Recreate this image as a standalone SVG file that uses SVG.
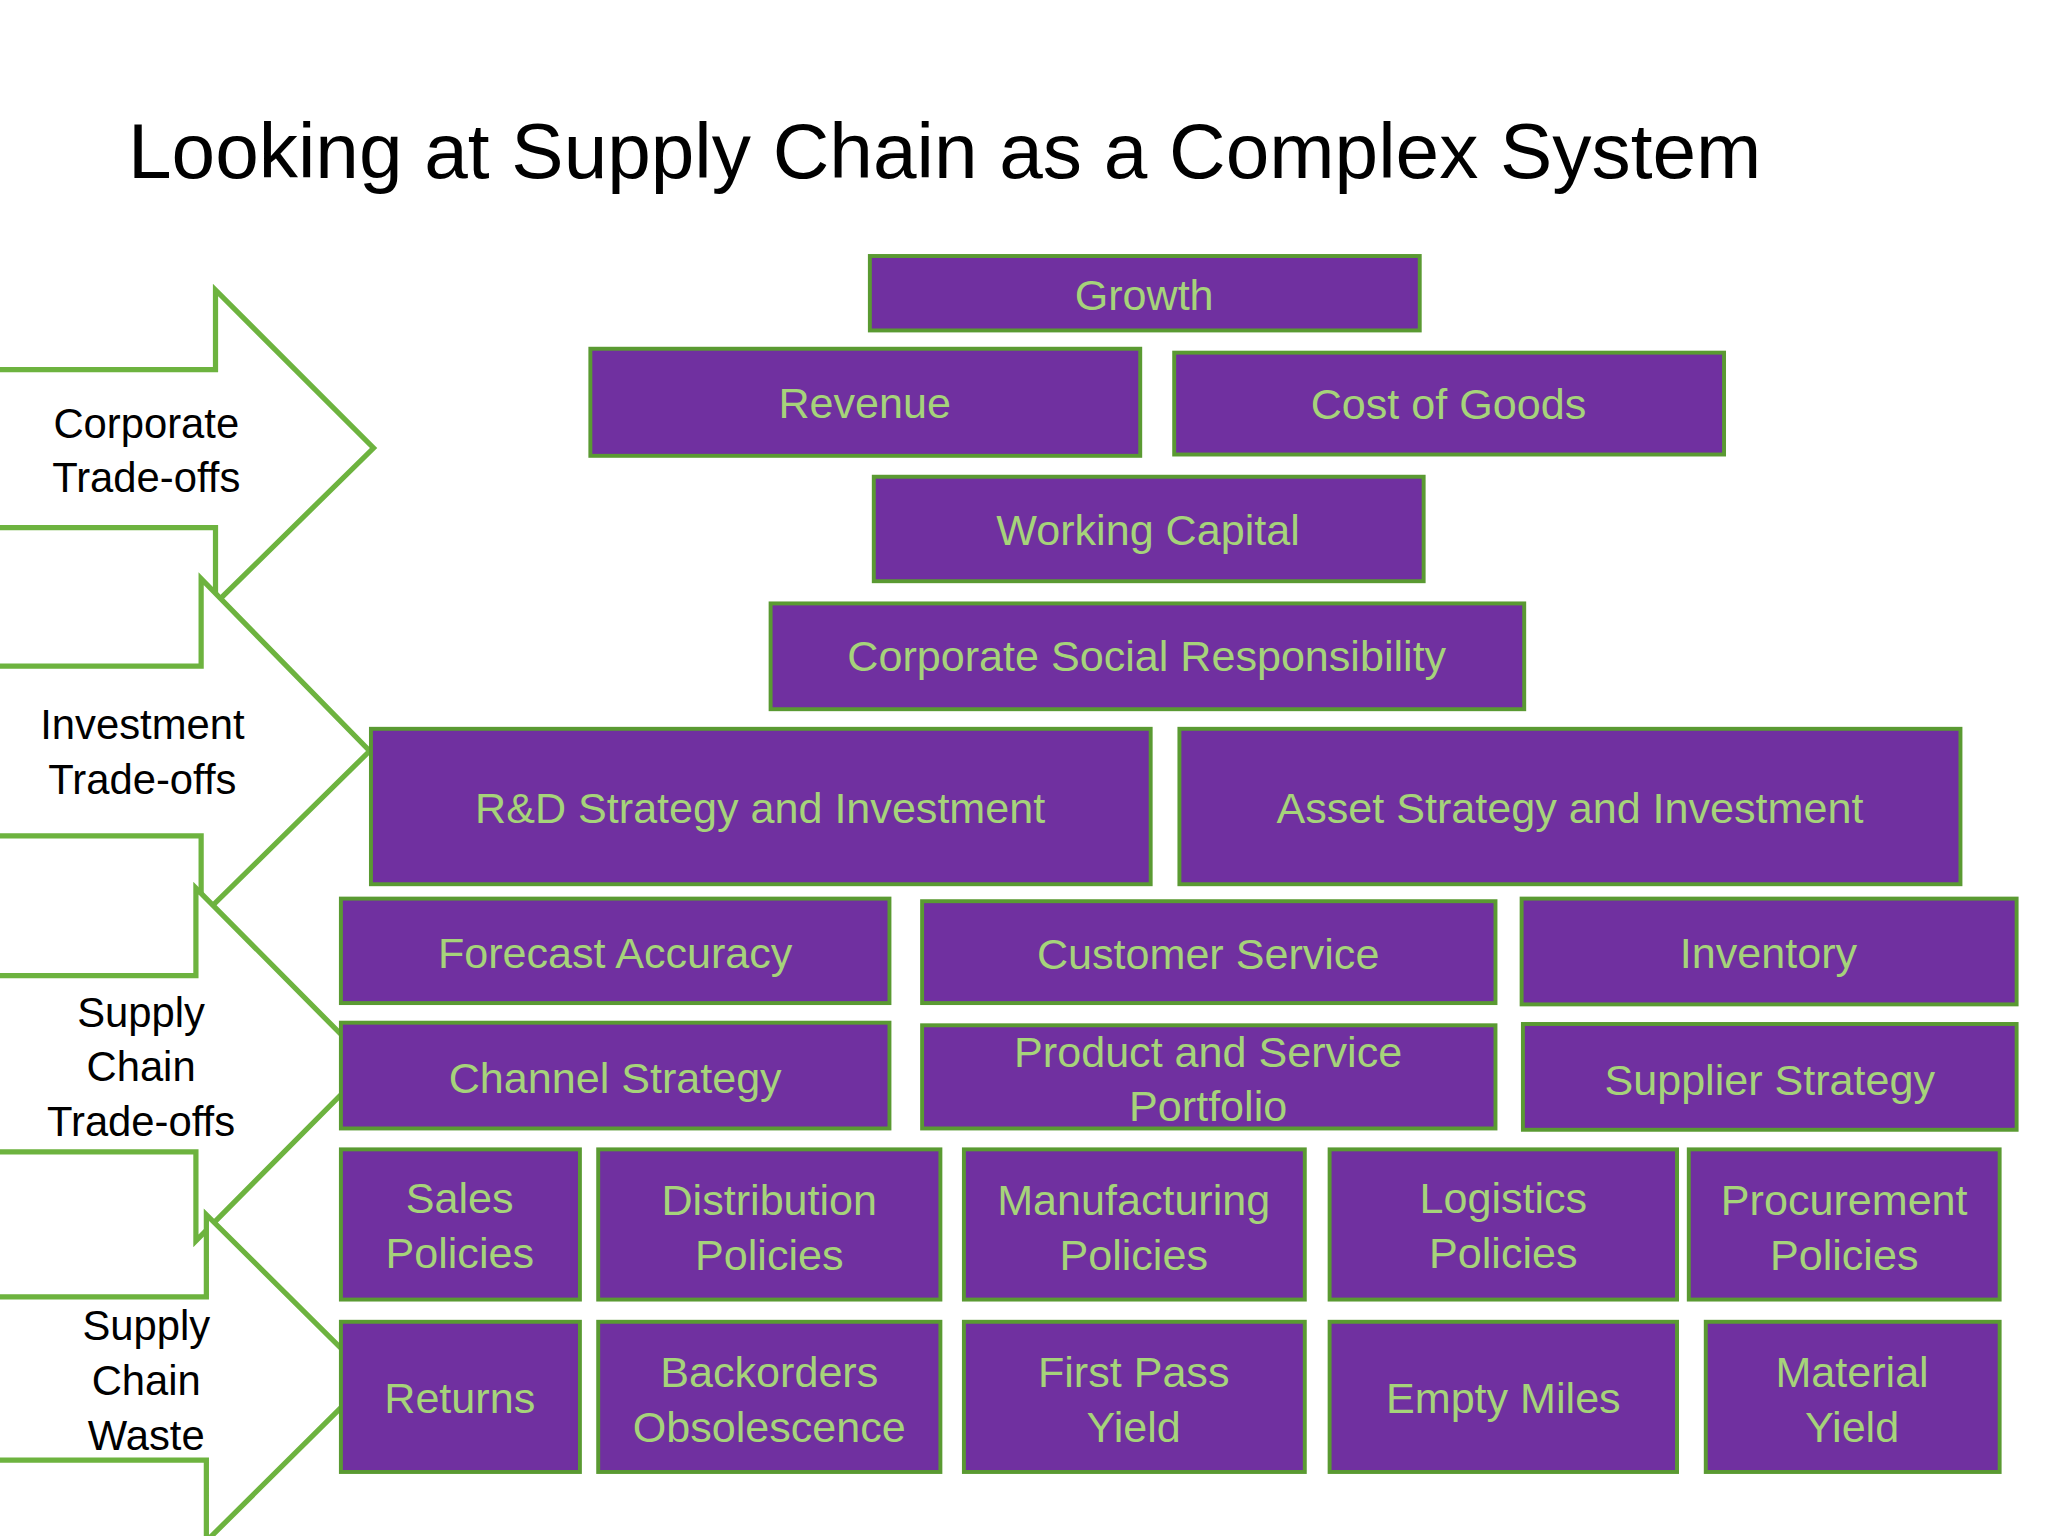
<svg xmlns="http://www.w3.org/2000/svg" width="2048" height="1536" viewBox="0 0 2048 1536">
<style>
.b{fill:#7030A0;stroke:#5A9A32;stroke-width:3}
.t{fill:#A6D37A;font-family:"Liberation Sans",Arial,sans-serif;font-size:33px;text-anchor:middle}
.a{fill:#fff;stroke:#6DB33F;stroke-width:4}
.l{fill:#000;font-family:"Liberation Sans",Arial,sans-serif;font-size:32px;text-anchor:middle}
</style>
<rect width="2048" height="1536" fill="#fff"/>
<g transform="scale(1.3061)">
<text x="98" y="136" font-family="Liberation Sans,Arial,sans-serif" font-size="60" fill="#000">Looking at Supply Chain as a Complex System</text>
<g id="arrows">
<g id="a1"><path class="a" d="M-5 283H165V222L286 343L165 462V404H-5Z"/><text class="l" x="112" y="335">Corporate</text><text class="l" x="112" y="377">Trade-offs</text></g>
<g id="a2"><path class="a" d="M-5 510H154V443L283 575L154 702V640H-5Z"/><text class="l" x="109" y="566">Investment</text><text class="l" x="109" y="608">Trade-offs</text></g>
<g id="a3"><path class="a" d="M-5 747H150V680L284 815L150 950V882H-5Z"/><text class="l" x="108" y="786">Supply</text><text class="l" x="108" y="828">Chain</text><text class="l" x="108" y="870">Trade-offs</text></g>
<g id="a4"><path class="a" d="M-5 993H158V930L284 1055L158 1180V1118H-5Z"/><text class="l" x="112" y="1026">Supply</text><text class="l" x="112" y="1068">Chain</text><text class="l" x="112" y="1110">Waste</text></g>
</g>
<g id="connectors"></g>
<g id="n1"><rect class="b" x="666" y="196" width="421" height="57"/><text class="t" x="876" y="237">Growth</text></g>
<g id="n2"><rect class="b" x="452" y="267" width="421" height="82"/><text class="t" x="662" y="320">Revenue</text></g>
<g id="n3"><rect class="b" x="899" y="270" width="421" height="78"/><text class="t" x="1109" y="321">Cost of Goods</text></g>
<g id="n4"><rect class="b" x="669" y="365" width="421" height="80"/><text class="t" x="879" y="417">Working Capital</text></g>
<g id="n5"><rect class="b" x="590" y="462" width="577" height="81"/><text class="t" x="878" y="514">Corporate Social Responsibility</text></g>
<g id="n6"><rect class="b" x="284" y="558" width="597" height="119"/><text class="t" x="582" y="630">R&amp;D Strategy and Investment</text></g>
<g id="n7"><rect class="b" x="903" y="558" width="598" height="119"/><text class="t" x="1202" y="630">Asset Strategy and Investment</text></g>
<g id="n8"><rect class="b" x="261" y="688" width="420" height="80"/><text class="t" x="471" y="741">Forecast Accuracy</text></g>
<g id="n9"><rect class="b" x="706" y="690" width="439" height="78"/><text class="t" x="925" y="742">Customer Service</text></g>
<g id="n10"><rect class="b" x="1165" y="688" width="379" height="81"/><text class="t" x="1354" y="741">Inventory</text></g>
<g id="n11"><rect class="b" x="261" y="783" width="420" height="81"/><text class="t" x="471" y="837">Channel Strategy</text></g>
<g id="n12"><rect class="b" x="706" y="785" width="439" height="79"/><text class="t" x="925" y="817">Product and Service</text><text class="t" x="925" y="858">Portfolio</text></g>
<g id="n13"><rect class="b" x="1166" y="784" width="378" height="81"/><text class="t" x="1355" y="838">Supplier Strategy</text></g>
<g id="n14"><rect class="b" x="261" y="880" width="183" height="115"/><text class="t" x="352" y="929">Sales</text><text class="t" x="352" y="971">Policies</text></g>
<g id="n15"><rect class="b" x="458" y="880" width="262" height="115"/><text class="t" x="589" y="930">Distribution</text><text class="t" x="589" y="972">Policies</text></g>
<g id="n16"><rect class="b" x="738" y="880" width="261" height="115"/><text class="t" x="868" y="930">Manufacturing</text><text class="t" x="868" y="972">Policies</text></g>
<g id="n17"><rect class="b" x="1018" y="880" width="266" height="115"/><text class="t" x="1151" y="929">Logistics</text><text class="t" x="1151" y="971">Policies</text></g>
<g id="n18"><rect class="b" x="1293" y="880" width="238" height="115"/><text class="t" x="1412" y="930">Procurement</text><text class="t" x="1412" y="972">Policies</text></g>
<g id="n19"><rect class="b" x="261" y="1012" width="183" height="115"/><text class="t" x="352" y="1082">Returns</text></g>
<g id="n20"><rect class="b" x="458" y="1012" width="262" height="115"/><text class="t" x="589" y="1062">Backorders</text><text class="t" x="589" y="1104">Obsolescence</text></g>
<g id="n21"><rect class="b" x="738" y="1012" width="261" height="115"/><text class="t" x="868" y="1062">First Pass</text><text class="t" x="868" y="1104">Yield</text></g>
<g id="n22"><rect class="b" x="1018" y="1012" width="266" height="115"/><text class="t" x="1151" y="1082">Empty Miles</text></g>
<g id="n23"><rect class="b" x="1306" y="1012" width="225" height="115"/><text class="t" x="1418" y="1062">Material</text><text class="t" x="1418" y="1104">Yield</text></g>
</g>
</svg>
